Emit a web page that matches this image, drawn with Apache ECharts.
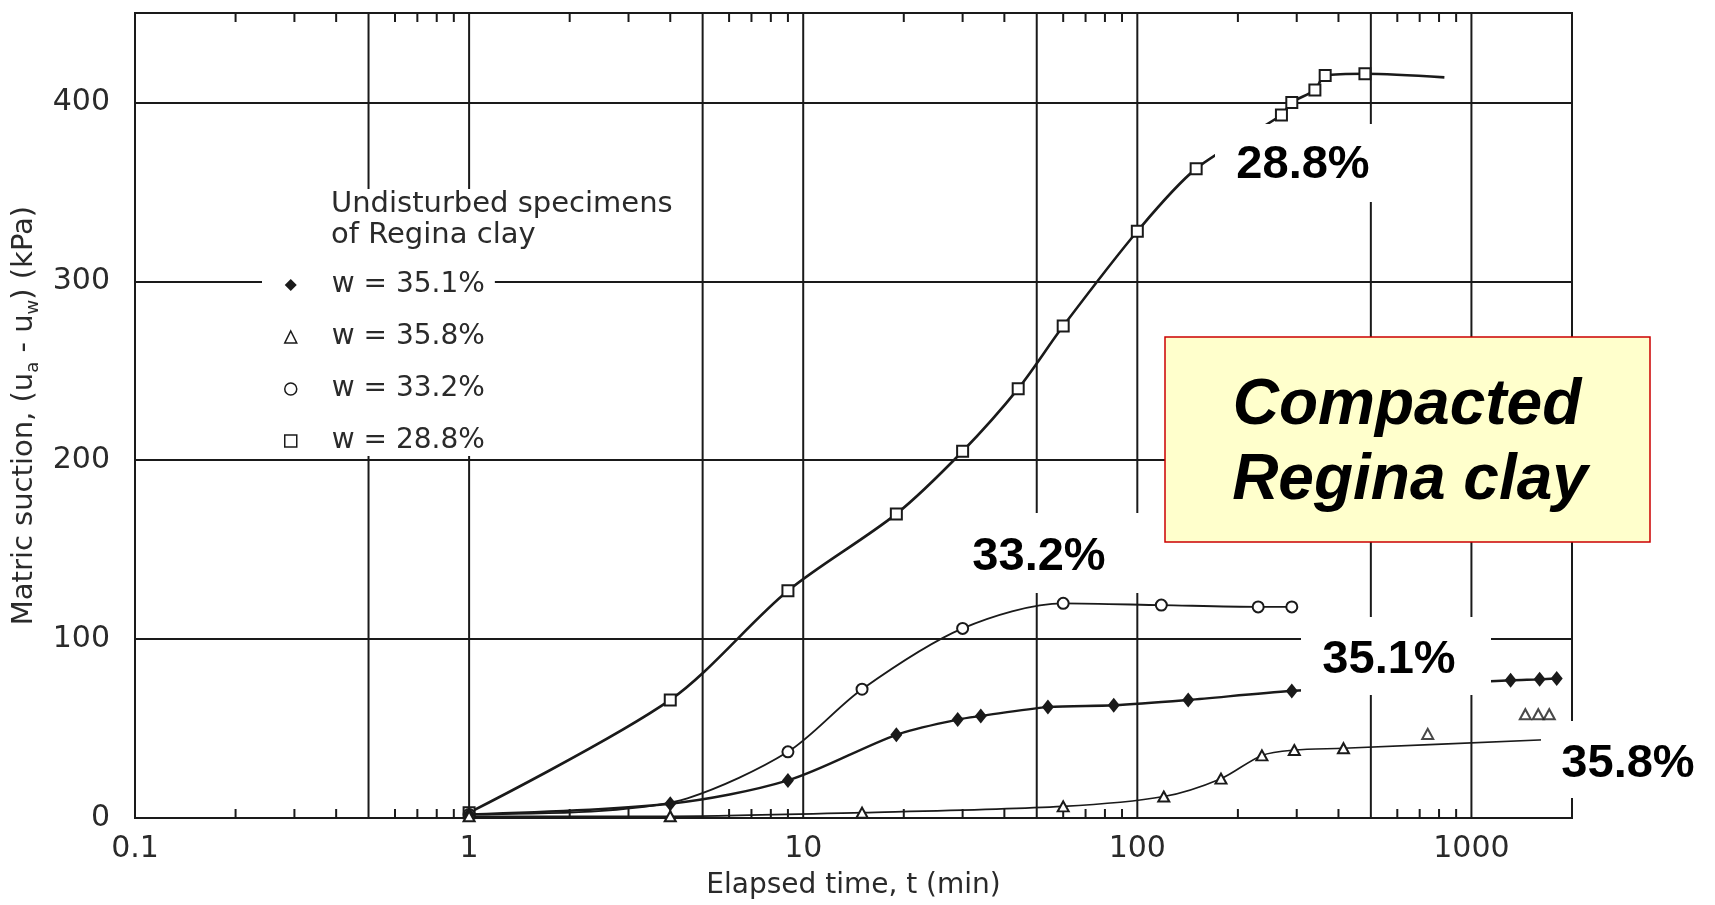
<!DOCTYPE html>
<html><head><meta charset="utf-8">
<script src="https://cdn.jsdelivr.net/npm/echarts@6/dist/echarts.min.js"></script>
<style>html,body{margin:0;padding:0;background:#fff}#c{width:1715px;height:905px}</style>
</head><body><div id="c"></div>
<script>
// ---- axis ticks / labels ----
const xTickValues = [0.1, 1, 10, 100, 1000];
const xTickLabels = ['0.1', '1', '10', '100', '1000'];
const yTickValues = [0, 100, 200, 300, 400];
const gridX = [0.5, 1, 5, 10, 50, 100, 500, 1000];
const minorX = [0.2, 0.3, 0.4, 0.6, 0.7, 0.8, 0.9,
                2, 3, 4, 6, 7, 8, 9,
                20, 30, 40, 60, 70, 80, 90,
                200, 300, 400, 600, 700, 800, 900];

// ---- series: w = 28.8 % (squares) ----
const t288 = [1, 4, 9, 19, 30, 44, 60, 100, 150, 270, 290, 340, 365, 480];
const v288 = [3, 66, 127, 170, 205, 240, 275, 328, 363, 393, 400, 407, 415, 416];
const curve288 = [[830, 414]];
// ---- w = 33.2 % (circles) ----
const t332 = [1, 9, 15, 30, 60, 118, 230, 290];
const v332 = [2, 37, 72, 106, 120, 119, 118, 118];
const curve332 = [[2.5, 4], [4.5, 11]];
// ---- w = 35.1 % (diamonds) ----
const t351 = [1, 4, 9, 19, 29, 34, 54, 85, 142, 290, 1310, 1600, 1800];
const v351 = [2, 8, 21, 46.5, 55, 57, 62, 63, 66, 71, 77, 77.5, 78];
const curve351 = [];
// ---- w = 35.8 % (triangles) ----
const t358 = [1, 4, 15, 60, 120, 178, 236, 295, 414];
const v358 = [1, 1, 3, 6.5, 12, 22, 35, 38, 39];
const curve358 = [[1800, 44]];
const t358b = [740, 1450, 1585, 1710];
const v358b = [47, 58, 58, 58];

const names = ['w = 35.1%', 'w = 35.8%', 'w = 33.2%', 'w = 28.8%'];
const annot = ['28.8%', '33.2%', '35.1%', '35.8%'];

const INK = '#1a1a1a';
const SCAN_FONT = '"DejaVu Sans", "Liberation Sans", Arial, sans-serif';
const BOLD_FONT = '"Liberation Sans", Arial, Helvetica, sans-serif';
const Y_MAX = 450;

function lineData(ts, vs, extra) {
  const pts = ts.map((t, i) => ({ value: [t, vs[i]] }));
  (extra || []).forEach(p => pts.push({ value: p, symbol: 'none' }));
  pts.sort((a, b) => a.value[0] - b.value[0]);
  return pts;
}

const chart = echarts.init(document.getElementById('c'), null, { renderer: 'canvas' });
const emptyIcon = { color: '#fff', borderColor: INK, borderWidth: 1.5 };

chart.setOption({
  animation: false,
  backgroundColor: '#fff',
  grid: { left: 135, right: 143, top: 13, bottom: 85, show: true, borderColor: INK, borderWidth: 2, backgroundColor: 'transparent' },
  title: {
    text: 'Undisturbed specimens\nof Regina clay',
    left: 331, top: 189, padding: 0, backgroundColor: '#fff',
    textStyle: { fontFamily: SCAN_FONT, fontSize: 29, fontWeight: 'normal', color: '#2a2a2a', lineHeight: 31 }
  },
  legend: {
    orient: 'vertical', left: 262, top: 251, padding: [19, 10, 0, 22],
    backgroundColor: '#fff',
    itemWidth: 12, itemHeight: 12, itemGap: 22,
    selectedMode: false,
    textStyle: { fontFamily: SCAN_FONT, fontSize: 28, color: '#2a2a2a', lineHeight: 30, padding: [0, 0, 0, 30] },
    data: [
      { name: names[0], icon: 'diamond', itemStyle: { color: INK, borderWidth: 0 } },
      { name: names[1], icon: 'triangle', itemStyle: emptyIcon },
      { name: names[2], icon: 'circle', itemStyle: emptyIcon },
      { name: names[3], icon: 'rect', itemStyle: emptyIcon }
    ]
  },
  xAxis: {
    type: 'log', logBase: 10, min: 0.1, max: 2000,
    name: 'Elapsed time, t (min)', nameLocation: 'middle', nameGap: 54,
    nameTextStyle: { fontFamily: SCAN_FONT, fontSize: 28, color: '#2a2a2a' },
    axisLine: { show: false }, axisTick: { show: false }, splitLine: { show: false },
    axisLabel: {
      fontFamily: SCAN_FONT, fontSize: 30, color: '#2a2a2a', margin: 16,
      formatter: v => { const i = xTickValues.findIndex(t => Math.abs(Math.log10(v / t)) < 1e-6); return i >= 0 ? xTickLabels[i] : ''; }
    }
  },
  yAxis: {
    type: 'value', min: 0, max: Y_MAX, interval: 100,
    name: '{a|Matric suction, (u}{b|a}{a| - u}{b|w}{a|) (kPa)}',
    nameLocation: 'middle', nameGap: 90, nameRotate: 90,
    nameTextStyle: {
      color: '#2a2a2a', fontFamily: SCAN_FONT, fontSize: 29,
      rich: {
        a: { fontFamily: SCAN_FONT, fontSize: 29, color: '#2a2a2a', lineHeight: 34 },
        b: { fontFamily: SCAN_FONT, fontSize: 18, color: '#2a2a2a', verticalAlign: 'bottom', lineHeight: 34 }
      }
    },
    axisLine: { show: false }, axisTick: { show: false },
    splitLine: { show: true, lineStyle: { color: INK, width: 2 } },
    axisLabel: {
      fontFamily: SCAN_FONT, fontSize: 30, color: '#2a2a2a', margin: 25,
      formatter: v => yTickValues.indexOf(v) >= 0 ? String(v) : ''
    }
  },
  series: [
    {
      type: 'custom', name: 'vgrid', silent: true, z: 1,
      data: gridX.map(v => [v, 0]), encode: { x: 0, y: 1 },
      renderItem: (params, api) => {
        const v = api.value(0);
        const b = api.coord([v, 0]), t = api.coord([v, Y_MAX]);
        return { type: 'line', shape: { x1: b[0], y1: b[1], x2: t[0], y2: t[1] }, style: { stroke: INK, lineWidth: 2 } };
      }
    },
    {
      type: 'custom', name: 'minor', silent: true, z: 1,
      data: minorX.map(v => [v, 0]), encode: { x: 0, y: 1 },
      renderItem: (params, api) => {
        const v = api.value(0);
        const b = api.coord([v, 0]), t = api.coord([v, Y_MAX]);
        return { type: 'group', children: [
          { type: 'line', shape: { x1: b[0], y1: b[1], x2: b[0], y2: b[1] - 9 }, style: { stroke: INK, lineWidth: 2 } },
          { type: 'line', shape: { x1: t[0], y1: t[1], x2: t[0], y2: t[1] + 9 }, style: { stroke: INK, lineWidth: 2 } }
        ] };
      }
    },
    {
      name: names[3], type: 'line', smooth: 0.3, z: 5,
      symbol: 'emptyRect', symbolSize: 11, color: INK,
      itemStyle: { color: INK, borderWidth: 1.5 },
      lineStyle: { color: INK, width: 2.6 },
      data: lineData(t288, v288, curve288)
    },
    {
      name: names[2], type: 'line', smooth: 0.3, z: 5,
      symbol: 'emptyCircle', symbolSize: 11, color: INK,
      itemStyle: { color: INK, borderWidth: 1.5 },
      lineStyle: { color: INK, width: 1.9 },
      data: lineData(t332, v332, curve332)
    },
    {
      name: names[0], type: 'line', smooth: 0.3, z: 5,
      symbol: 'diamond', symbolSize: [12, 15], color: INK,
      itemStyle: { color: INK },
      lineStyle: { color: INK, width: 2.4 },
      data: lineData(t351, v351, curve351)
    },
    {
      name: names[1], type: 'line', smooth: 0.3, z: 5,
      symbol: 'emptyTriangle', symbolSize: [11, 10], color: INK,
      itemStyle: { color: INK, borderWidth: 1.3 },
      lineStyle: { color: INK, width: 1.6 },
      data: lineData(t358, v358, curve358)
    },
    {
      name: names[1], type: 'scatter', z: 5,
      symbol: 'emptyTriangle', symbolSize: [11, 10], color: INK,
      itemStyle: { color: INK, borderWidth: 1.3 },
      data: t358b.map((t, i) => [t, v358b[i]])
    }
  ],
  graphic: [
    { type: 'rect', z: 100, shape: { x: 1215, y: 124, width: 157, height: 78 }, style: { fill: '#fff' } },
    { type: 'text', z: 101, x: 1303, y: 165, style: { text: annot[0], font: 'bold 47px ' + BOLD_FONT, fill: '#000', align: 'center', verticalAlign: 'middle' } },
    { type: 'rect', z: 100, shape: { x: 958, y: 513, width: 184, height: 80 }, style: { fill: '#fff' } },
    { type: 'text', z: 101, x: 1039, y: 557, style: { text: annot[1], font: 'bold 47px ' + BOLD_FONT, fill: '#000', align: 'center', verticalAlign: 'middle' } },
    { type: 'rect', z: 100, shape: { x: 1301, y: 617, width: 190, height: 78 }, style: { fill: '#fff' } },
    { type: 'text', z: 101, x: 1389, y: 660, style: { text: annot[2], font: 'bold 47px ' + BOLD_FONT, fill: '#000', align: 'center', verticalAlign: 'middle' } },
    { type: 'rect', z: 100, shape: { x: 1541, y: 721, width: 174, height: 77 }, style: { fill: '#fff' } },
    { type: 'text', z: 101, x: 1628, y: 764, style: { text: annot[3], font: 'bold 47px ' + BOLD_FONT, fill: '#000', align: 'center', verticalAlign: 'middle' } },
    { type: 'rect', z: 100, shape: { x: 1165, y: 337, width: 485, height: 205 }, style: { fill: '#ffffcc', stroke: '#cc0000', lineWidth: 1.5 } },
    { type: 'text', z: 101, x: 1407, y: 406, style: { text: 'Compacted', font: 'italic bold 64px ' + BOLD_FONT, fill: '#000', align: 'center', verticalAlign: 'middle' } },
    { type: 'text', z: 101, x: 1410, y: 481, style: { text: 'Regina clay', font: 'italic bold 64px ' + BOLD_FONT, fill: '#000', align: 'center', verticalAlign: 'middle' } }
  ]
});
</script>
</body></html>
